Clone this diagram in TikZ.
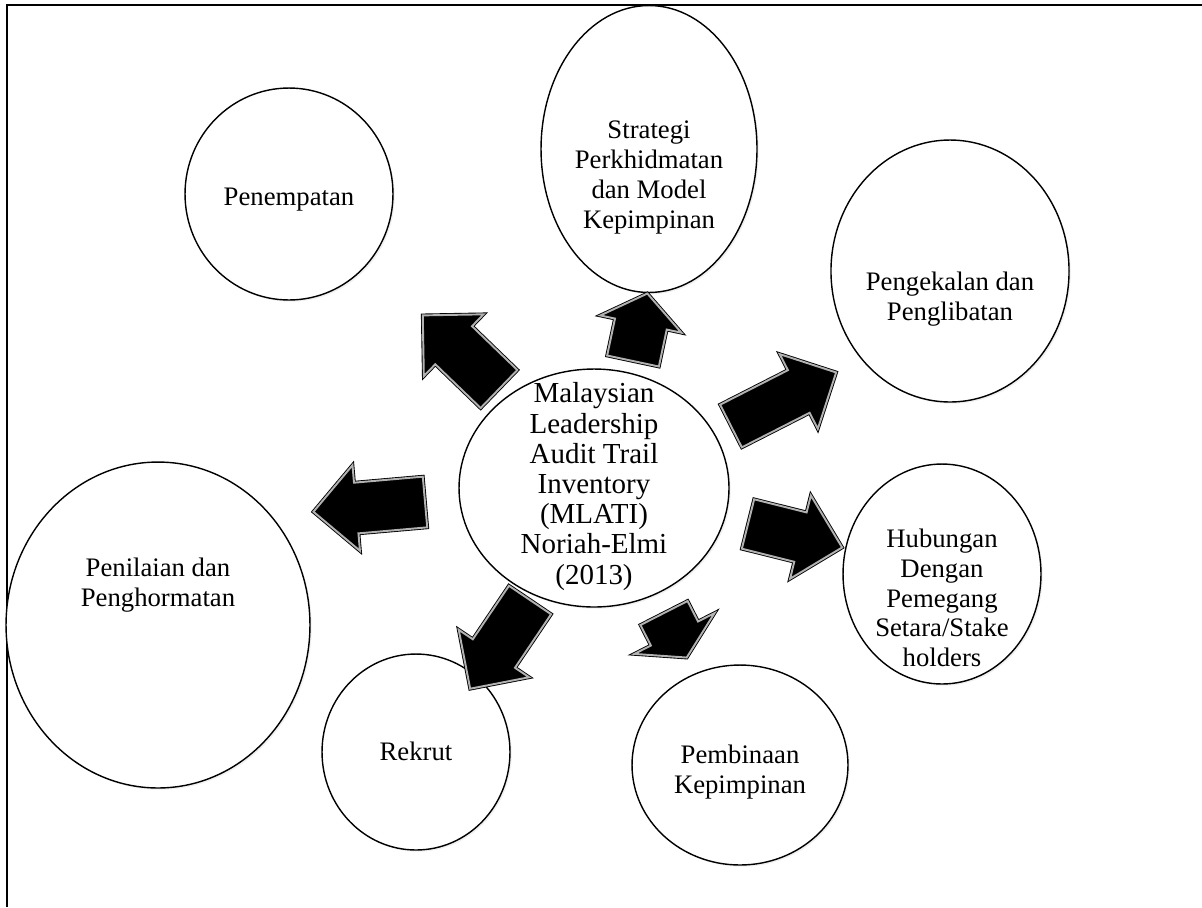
\documentclass[tikz,border=0pt]{standalone}
\usepackage{fontspec}
\setmainfont{Liberation Serif}
\usetikzlibrary{shapes.geometric,shapes.arrows,shadows}

% text of a bubble, shifted up or down without changing the node size
\newcommand{\bubtxt}[2][-5pt]{\raisebox{#1}[0pt][0pt]{\begin{tabular}{@{}c@{}}#2\end{tabular}}}

\begin{document}
\begin{tikzpicture}[x=0.02cm, y=-0.02cm,
  bub/.style={ellipse, draw, line width=0.8pt, fill=white, inner sep=0pt,
              font=\fontsize{15.2}{17}\selectfont,
              drop shadow={opacity=0.12, shadow xshift=1pt, shadow yshift=-1pt}},
  blk/.style={single arrow, draw=black, fill=black, line width=0.5pt,
              double=gray!60, double distance=1.1pt, anchor=tail,
              inner xsep=0pt, outer sep=0pt, text height=0pt, text depth=0pt,
              minimum width=0pt}]
\useasboundingbox (0,0) rectangle (1202,907);
\draw[line width=1.4pt] (7,907) -- (7,5) -- (1202,5);

% bubbles
\node[bub, minimum width=4.16cm, minimum height=4.24cm] (pen) at (289,194)
  {\bubtxt[-7pt]{Penempatan}};
\node[bub, minimum width=4.32cm, minimum height=5.74cm] (strat) at (649,149)
  {\bubtxt[-20pt]{Strategi\\Perkhidmatan\\dan Model\\Kepimpinan}};
\node[bub, minimum width=4.68cm, minimum height=5.24cm] (peng) at (950,271)
  {\bubtxt[-20pt]{Pengekalan dan\\Penglibatan}};
\node[bub, minimum width=3.96cm, minimum height=4.4cm] (hub) at (942,574)
  {\bubtxt[-19pt]{Hubungan\\Dengan\\Pemegang\\Setara/Stake\\holders}};
\node[bub, minimum width=4.32cm, minimum height=4.0cm] (pemb) at (740,765)
  {\bubtxt[-8pt]{Pembinaan\\Kepimpinan}};
\node[bub, minimum width=3.76cm, minimum height=3.92cm] (rek) at (416,752)
  {\bubtxt{Rekrut}};
\node[bub, minimum width=6.08cm, minimum height=6.52cm] (pnl) at (158,625)
  {\bubtxt[19pt]{Penilaian dan\\Penghormatan}};
\node[bub, minimum width=5.4cm, minimum height=4.76cm,
      font=\fontsize{16.5}{17.2}\selectfont] (mlati) at (594,488)
  {\bubtxt[-4pt]{Malaysian\\Leadership\\Audit Trail\\Inventory\\(MLATI)\\Noriah-Elmi\\(2013)}};

% block arrows out of the centre
\node[blk, rotate=136, minimum height=2.12cm, inner ysep=0.52cm,
      single arrow head extend=0.33cm] (toPen) at (499,389) {};
\node[blk, rotate=78, minimum height=1.38cm, inner ysep=0.52cm,
      single arrow head extend=0.30cm, single arrow tip angle=106] (toStrat) at (633,361) {};
\node[blk, rotate=27, minimum height=2.36cm, inner ysep=0.47cm,
      single arrow head extend=0.36cm] (toPeng) at (731,426) {};
\node[blk, rotate=-14, minimum height=1.94cm, inner ysep=0.50cm,
      single arrow head extend=0.35cm] (toHub) at (748,524) {};
\node[blk, rotate=-63, minimum height=1.0cm, inner ysep=0.52cm,
      single arrow head extend=0.37cm, single arrow tip angle=118] (toPemb) at (664,613) {};
\node[blk, rotate=-124, minimum height=2.14cm, inner ysep=0.50cm,
      single arrow head extend=0.34cm] (toRek) at (530,600) {};
\node[blk, rotate=185, minimum height=2.24cm, inner ysep=0.50cm,
      single arrow head extend=0.35cm] (toPnl) at (425,502) {};
\end{tikzpicture}
\end{document}
